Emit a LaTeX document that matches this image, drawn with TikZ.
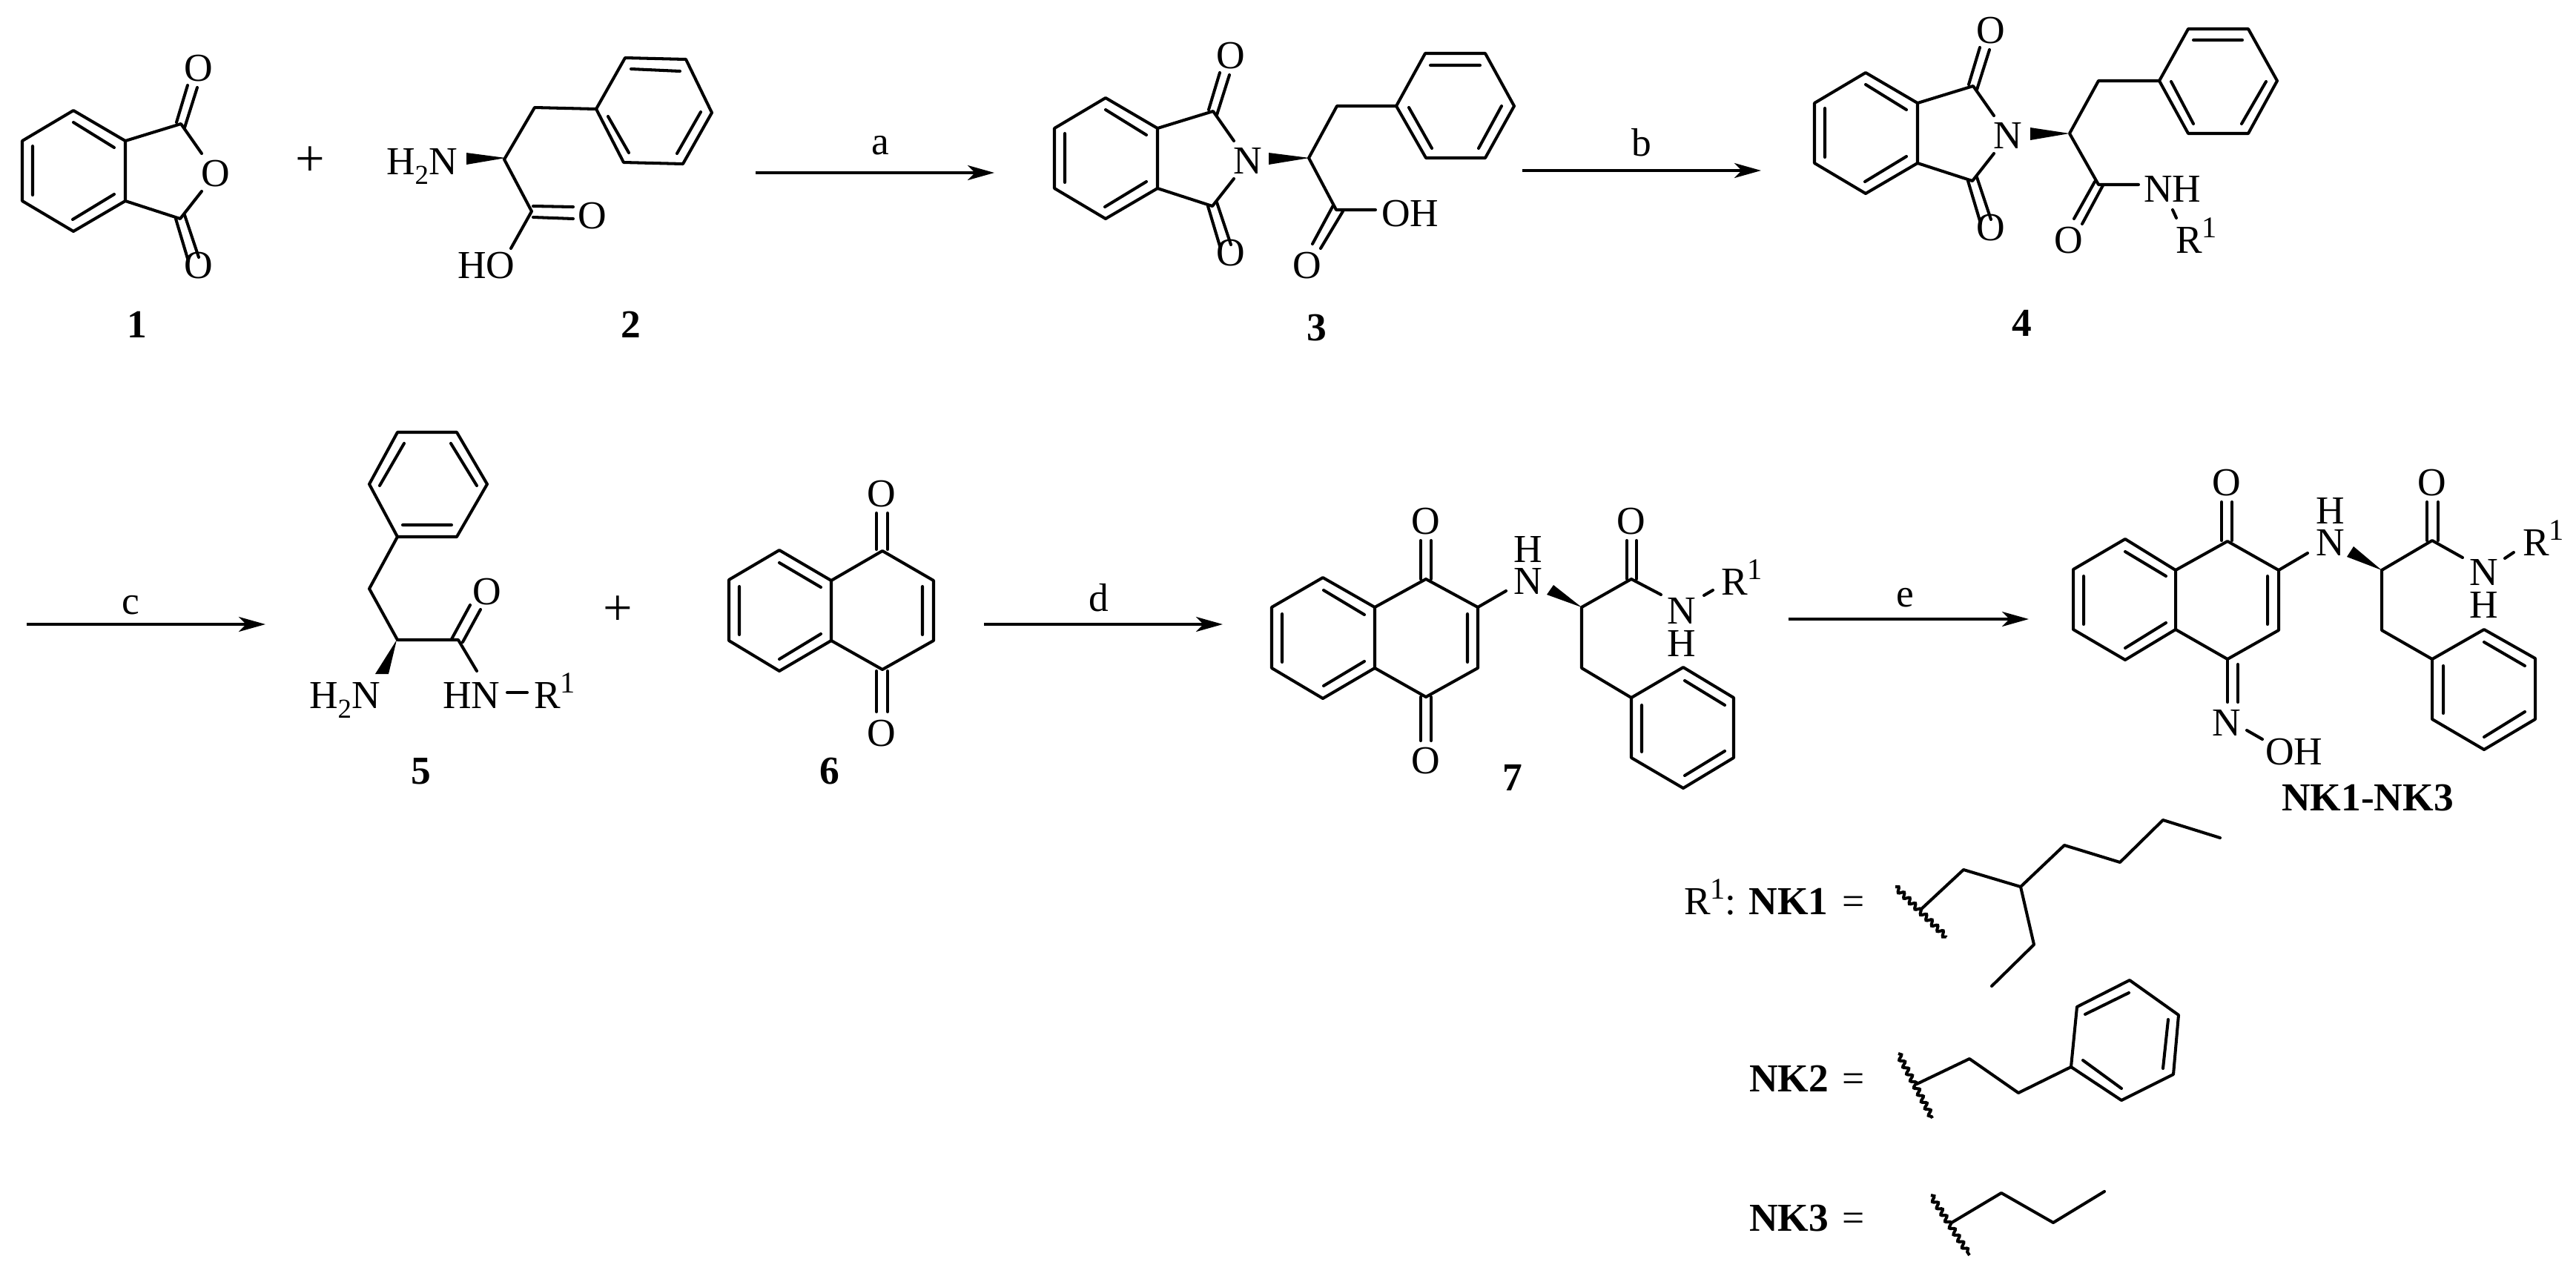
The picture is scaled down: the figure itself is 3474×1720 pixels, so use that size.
\documentclass[tikz,border=0pt]{standalone}
\usepackage{fontspec}
\setmainfont{Liberation Serif}
\usetikzlibrary{arrows.meta,decorations.pathmorphing}
\newcommand\supi{\raisebox{0.21cm}{\fontsize{11.5pt}{12pt}\selectfont 1}}
\newcommand\subii{\raisebox{-0.13cm}{\fontsize{10.5pt}{11pt}\selectfont 2}}
\tikzset{
  bond/.style={line width=1.15pt,line join=round,line cap=round},
  atom/.style={anchor=base,inner sep=0pt,outer sep=0pt,font=\fontsize{15.2pt}{18pt}\selectfont},
  atomw/.style={atom,anchor=base west},
  cpd/.style={atom,font=\fontsize{15.2pt}{18pt}\selectfont\bfseries},
  plussign/.style={atom,font=\fontsize{20pt}{22pt}\selectfont},
  rxn/.style={line width=1.15pt,-{Stealth[length=0.36cm,width=0.2cm,inset=0.1cm]}},
  wavy/.style={line width=1.15pt,decorate,decoration={snake,amplitude=0.9pt,segment length=3pt}},
}
% phthalimide fragment: suffix, shift x, shift y, ring hetero atom
\newcommand\phth[4]{%
\begin{scope}[shift={(#2,#3)}]
\draw[bond] (99,149)--(169,190)--(169,271)--(99,312)--(30,271)--(30,190)--cycle;
\draw[bond] (99,165)--(154,199) (44,197)--(44,263) (98,296)--(154,262);
\draw[bond] (169,190)--(244,167)--(272,207) (169,271)--(243,295)--(272,258);
\draw[bond] (238,165)--(253,115) (249,172)--(266,118);
\draw[bond] (237,295)--(254,352) (249,290)--(268,347);
\node[atom] (ot#1) at (268,109) {O};
\node[atom] (ob#1) at (268,375) {O};
\node[atom] (x#1) at (291,251) {#4};
\end{scope}}
\begin{document}
\begin{tikzpicture}[x=0.01cm,y=-0.01cm]
\useasboundingbox[fill=white] (0,0) rectangle (3474,1720);

% ---------- compound 1
\phth{a}{0}{0}{O}
\node[plussign] (plusa) at (418,237) {+};
\node[cpd] (n1) at (185,455) {1};

% ---------- compound 2
\draw[bond] (804,147)--(843,78)--(925,80)--(960,152)--(921,221)--(841,219)--cycle;
\draw[bond] (851,93)--(917,96) (820,157)--(848,206) (945,151)--(913,207);
\draw[bond] (804,147)--(721,145)--(680,215)--(717,285)--(689,335);
\draw[bond] (719,278)--(773,279) (719,293)--(773,295);
\fill (682,213)--(629,206)--(629,222)--cycle;
\node[atomw] (h2n2) at (521,235) {H\subii N};
\node[atom] (o2) at (799,308) {O};
\node[atom] (ho2) at (656,375) {HO};
\node[cpd] (n2) at (851,455) {2};

% arrow a
\coordinate (aS) at (1019,233); \coordinate (aE) at (1341,233);
\draw[rxn] (aS)--(aE);
\node[atom] (la) at (1187,208) {a};

% ---------- compound 3
\phth{c}{1392}{-17}{N}
\draw[bond] (1883,143)--(1922,72)--(2003,72)--(2042,143)--(2003,213)--(1923,213)--cycle;
\draw[bond] (1929,88)--(1996,88) (1900,145)--(1931,200) (2025,143)--(1994,200);
\draw[bond] (1883,143)--(1803,143)--(1765,213)--(1802,283)--(1855,283);
\draw[bond] (1798,277)--(1770,329) (1811,285)--(1781,335);
\fill (1766,213)--(1711,206)--(1711,222)--cycle;
\node[atomw] (oh3) at (1863,305) {OH};
\node[atom] (o3) at (1763,375) {O};
\node[cpd] (n3) at (1776,459) {3};

% arrow b
\coordinate (bS) at (2053,230); \coordinate (bE) at (2375,230);
\draw[rxn] (bS)--(bE);
\node[atom] (lb) at (2214,210) {b};

% ---------- compound 4
\phth{d}{2417}{-51}{N}
\draw[bond] (2912,109)--(2951,39)--(3032,39)--(3071,109)--(3032,180)--(2951,180)--cycle;
\draw[bond] (2958,54)--(3024,54) (2928,110)--(2958,167) (3056,110)--(3023,167);
\draw[bond] (2912,109)--(2830,109)--(2791,180)--(2830,249)--(2884,249);
\draw[bond] (2825,245)--(2797,295) (2836,250)--(2808,302);
\draw[bond] (2930,283)--(2935,294);
\fill (2791,180)--(2738,172)--(2738,189)--cycle;
\node[atomw] (nh4) at (2891,272) {NH};
\node[atom] (o4) at (2790,341) {O};
\node[atomw] (r4) at (2934,341) {R\supi};
\node[cpd] (n4) at (2727,453) {4};

% arrow c
\coordinate (cS) at (36,842); \coordinate (cE) at (358,842);
\draw[rxn] (cS)--(cE);
\node[atom] (lc) at (176,828) {c};

% ---------- compound 5
\draw[bond] (536,583)--(616,583)--(657,653)--(616,724)--(536,724)--(498,653)--cycle;
\draw[bond] (545,598)--(512,655) (608,598)--(643,655) (543,708)--(609,708);
\draw[bond] (536,724)--(498,794)--(536,863)--(618,863)--(643,905);
\draw[bond] (609,862)--(634,816) (624,866)--(648,822);
\fill (535,863)--(506,909)--(524,909)--cycle;
\draw[bond] (684,934)--(711,934);
\node[atom] (o5) at (657,815) {O};
\node[atomw] (h2n5) at (417,955) {H\subii N};
\node[atomw] (hn5) at (597,955) {HN};
\node[atomw] (r5) at (720,955) {R\supi};
\node[cpd] (n5) at (568,1057) {5};
\node[plussign] (plusb) at (833,843) {+};

% ---------- compound 6
\draw[bond] (1051,742)--(983,782)--(983,864)--(1051,905)--(1121,864)--(1121,783)--cycle;
\draw[bond] (1121,783)--(1190,743)--(1259,783)--(1259,864)--(1190,903)--(1121,864);
\draw[bond] (1051,759)--(1107,792) (997,791)--(997,856) (1051,889)--(1107,855) (1244,791)--(1244,856);
\draw[bond] (1182,741)--(1182,692) (1197,741)--(1197,692);
\draw[bond] (1182,905)--(1182,960) (1197,905)--(1197,960);
\node[atom] (ot6) at (1189,683) {O};
\node[atom] (ob6) at (1189,1006) {O};
\node[cpd] (n6) at (1119,1057) {6};

% arrow d
\coordinate (dS) at (1327,842); \coordinate (dE) at (1649,842);
\draw[rxn] (dS)--(dE);
\node[atom] (ld) at (1482,824) {d};

% ---------- compound 7
\draw[bond] (1784,779)--(1715,819)--(1715,901)--(1784,942)--(1854,901)--(1854,819)--cycle;
\draw[bond] (1854,819)--(1923,781)--(1993,819)--(1993,901)--(1923,940)--(1854,901);
\draw[bond] (1785,796)--(1840,829) (1729,828)--(1729,893) (1785,925)--(1840,892) (1979,828)--(1979,893);
\draw[bond] (1916,781)--(1916,729) (1930,781)--(1930,729);
\draw[bond] (1916,940)--(1916,999) (1930,940)--(1930,999);
\draw[bond] (1993,819)--(2031,797);
\fill (2133,819)--(2086,802)--(2095,789)--cycle;
\draw[bond] (2133,819)--(2200,781)--(2240,802);
\draw[bond] (2194,781)--(2194,729) (2207,781)--(2207,729);
\draw[bond] (2298,803)--(2310,796);
\draw[bond] (2133,819)--(2133,901)--(2200,941);
\draw[bond] (2200,941)--(2270,900)--(2338,941)--(2338,1022)--(2270,1063)--(2200,1022)--cycle;
\draw[bond] (2272,918)--(2326,951) (2214,951)--(2214,1014) (2272,1046)--(2326,1013);
\node[atom] (ot7) at (1923,720) {O};
\node[atom] (ob7) at (1923,1043) {O};
\node[atom] (h7) at (2061,758) {H};
\node[atom] (nn7) at (2061,801) {N};
\node[atom] (oa7) at (2200,720) {O};
\node[atom] (na7) at (2268,841) {N};
\node[atom] (ha7) at (2268,885) {H};
\node[atomw] (r7) at (2321,802) {R\supi};
\node[cpd] (n7) at (2040,1066) {7};

% arrow e
\coordinate (eS) at (2412,835); \coordinate (eE) at (2736,835);
\draw[rxn] (eS)--(eE);
\node[atom] (le) at (2569,818) {e};

% ---------- NK1-NK3
\draw[bond] (2866,727)--(2796,768)--(2796,849)--(2866,890)--(2934,849)--(2934,769)--cycle;
\draw[bond] (2934,769)--(3004,730)--(3073,769)--(3073,850)--(3004,889)--(2934,849);
\draw[bond] (2866,744)--(2921,777) (2810,777)--(2810,842) (2866,874)--(2921,840) (3058,777)--(3058,842);
\draw[bond] (2996,729)--(2996,677) (3010,729)--(3010,677);
\draw[bond] (3004,889)--(3004,947) (3018,896)--(3018,947);
\draw[bond] (3030,985)--(3051,997);
\draw[bond] (3073,769)--(3112,746);
\fill (3212,769)--(3165,751)--(3174,737)--cycle;
\draw[bond] (3212,769)--(3280,729)--(3321,752);
\draw[bond] (3273,729)--(3273,677) (3288,729)--(3288,677);
\draw[bond] (3378,753)--(3390,745);
\draw[bond] (3212,769)--(3212,850)--(3280,889);
\draw[bond] (3280,889)--(3350,849)--(3419,888)--(3419,970)--(3350,1011)--(3280,970)--cycle;
\draw[bond] (3350,866)--(3405,898) (3295,898)--(3295,962) (3350,994)--(3405,960);
\node[atom] (ot8) at (3003,668) {O};
\node[atom] (nox) at (3003,992) {N};
\node[atomw] (oh8) at (3055,1031) {OH};
\node[atom] (h8) at (3143,706) {H};
\node[atom] (nn8) at (3143,749) {N};
\node[atom] (oa8) at (3280,668) {O};
\node[atom] (na8) at (3350,789) {N};
\node[atom] (ha8) at (3350,833) {H};
\node[atomw] (r8) at (3402,749) {R\supi};
\node[cpd] (n8) at (3193,1093) {NK1-NK3};

% ---------- R1 definitions
\node[atomw] (def1) at (2271,1233) {R\supi:\hspace{0.17cm}{\bfseries NK1}\hspace{0.19cm}=};
\draw[wavy] (2556,1196)--(2625,1264);
\draw[bond] (2590,1227)--(2648,1173)--(2725,1196)--(2784,1140)--(2859,1163)--(2917,1106)--(2994,1130);
\draw[bond] (2725,1196)--(2743,1274)--(2686,1330);

\node[atomw] (def2) at (2359,1472) {{\bfseries NK2}\hspace{0.19cm}=};
\draw[wavy] (2560,1421)--(2606,1508);
\draw[bond] (2585,1462)--(2656,1428)--(2722,1474)--(2793,1439);
\draw[bond] (2793,1439)--(2801,1358)--(2872,1322)--(2938,1369)--(2931,1449)--(2861,1484)--cycle;
\draw[bond] (2812,1368)--(2871,1339) (2924,1375)--(2917,1441) (2809,1430)--(2861,1468);

\node[atomw] (def3) at (2359,1660) {{\bfseries NK3}\hspace{0.19cm}=};
\draw[wavy] (2604,1612)--(2656,1693);
\draw[bond] (2632,1649)--(2699,1609)--(2769,1649)--(2838,1607);
\end{tikzpicture}
\end{document}
